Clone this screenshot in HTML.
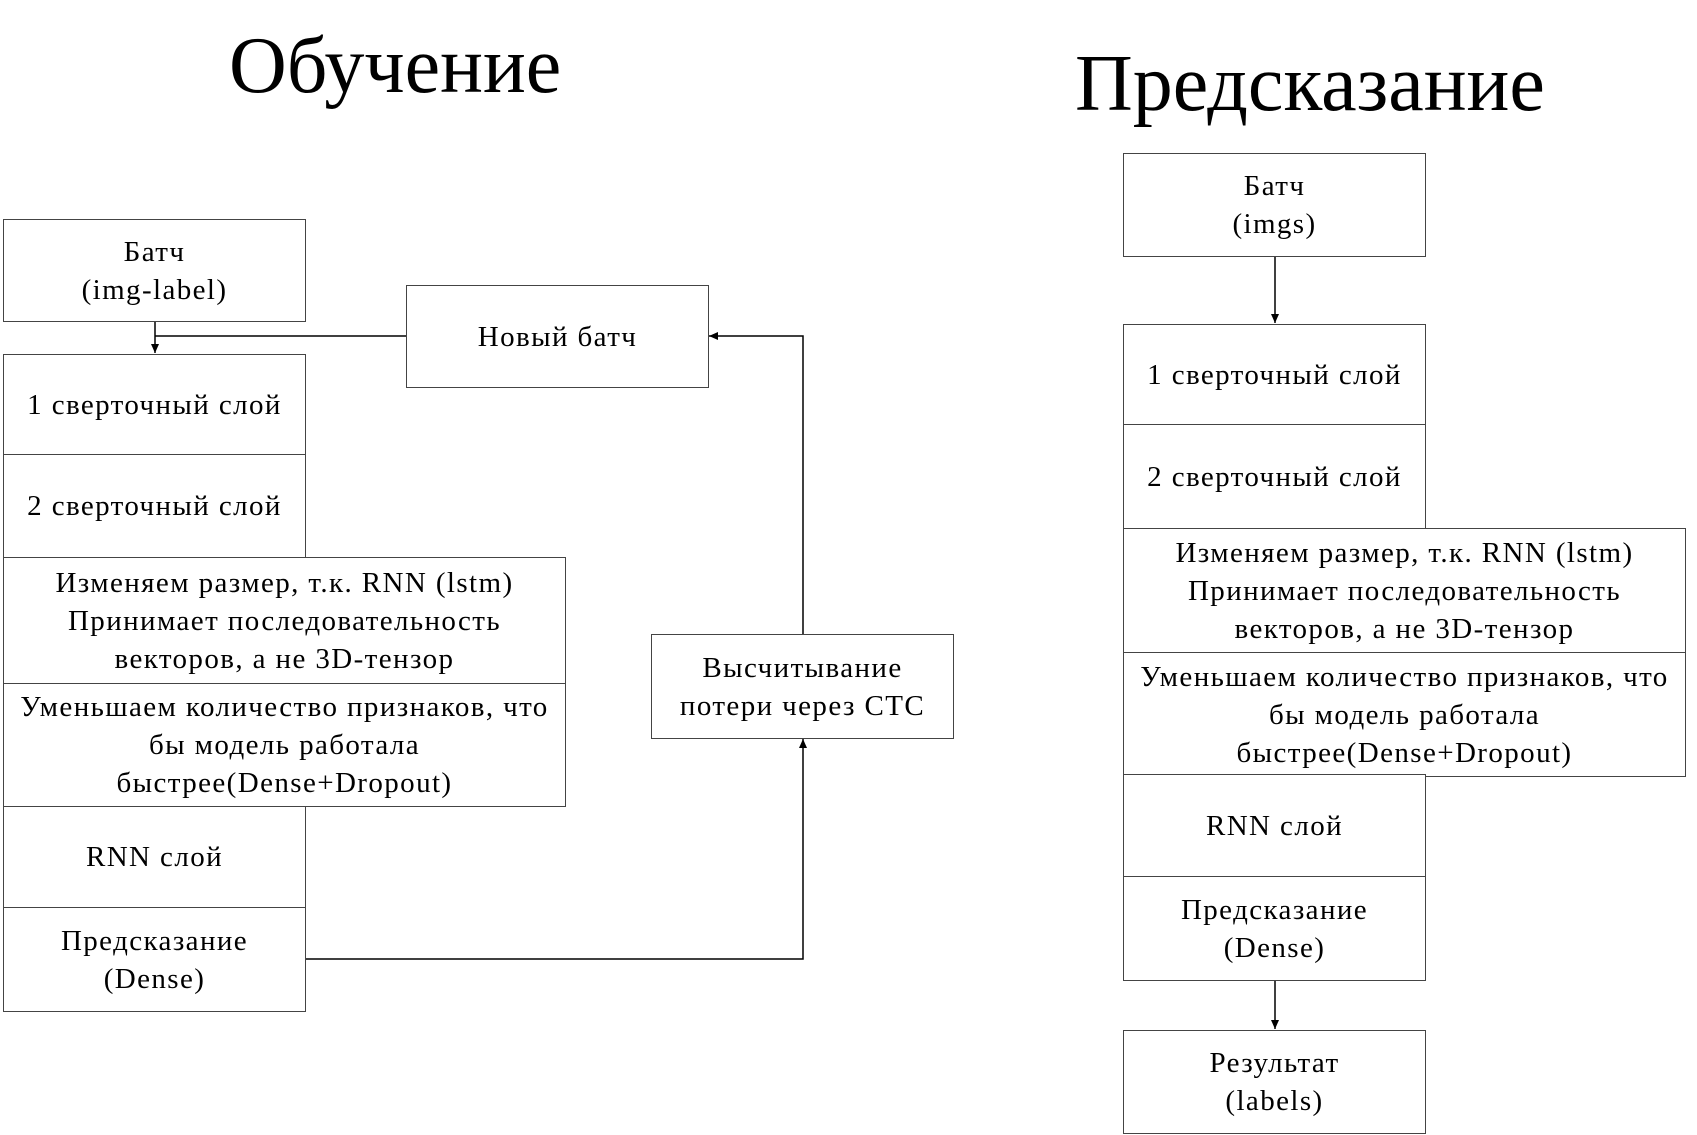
<!DOCTYPE html>
<html><head><meta charset="utf-8"><style>
body{margin:0;width:1697px;height:1135px;background:#fff;position:relative;overflow:hidden;font-family:"Liberation Serif",serif;color:#000}
.b{position:absolute;box-sizing:border-box;border:1.5px solid #444;background:#fff;display:flex;align-items:center;justify-content:center;text-align:center;font-size:29px;letter-spacing:1.4px;line-height:38px;white-space:nowrap}
.t{position:absolute;font-size:80px;line-height:1;white-space:nowrap}
svg{position:absolute;left:0;top:0}
</style></head><body>
<div class="t" style="left:229px;top:26px">Обучение</div>
<div class="t" style="left:1075px;top:44px;font-size:80px">Предсказание</div>
<svg width="1697" height="1135">
<defs><marker id="a" markerWidth="10" markerHeight="10" refX="9" refY="5" orient="auto" markerUnits="userSpaceOnUse"><path d="M0,1 L9,5 L0,9z" fill="#000"/></marker></defs>
<g stroke="#000" stroke-width="1.5" fill="none">
<line x1="155" y1="321" x2="155" y2="353" marker-end="url(#a)"/>
<line x1="406" y1="336" x2="155" y2="336"/>
<polyline points="305,959 803,959 803,739" marker-end="url(#a)"/>
<polyline points="803,634 803,336 709,336" marker-end="url(#a)"/>
<line x1="1275" y1="256" x2="1275" y2="323" marker-end="url(#a)"/>
<line x1="1275" y1="980" x2="1275" y2="1029" marker-end="url(#a)"/>
</g></svg>
<div class="b" style="left:3px;top:219px;width:303px;height:103px">Батч<br>(img-label)</div>
<div class="b" style="left:3px;top:354px;width:303px;height:101px">1 сверточный слой</div>
<div class="b" style="left:3px;top:454px;width:303px;height:104px">2 сверточный слой</div>
<div class="b" style="left:3px;top:557px;width:563px;height:127px">Изменяем размер, т.к. RNN (lstm)<br>Принимает последовательность<br>векторов, а не 3D-тензор</div>
<div class="b" style="left:3px;top:683px;width:563px;height:124px">Уменьшаем количество признаков, что<br>бы модель работала<br>быстрее(Dense+Dropout)</div>
<div class="b" style="left:3px;top:806px;width:303px;height:102px">RNN слой</div>
<div class="b" style="left:3px;top:907px;width:303px;height:105px">Предсказание<br>(Dense)</div>
<div class="b" style="left:406px;top:285px;width:303px;height:103px">Новый батч</div>
<div class="b" style="left:651px;top:634px;width:303px;height:105px">Высчитывание<br>потери через CTC</div>
<div class="b" style="left:1123px;top:153px;width:303px;height:104px">Батч<br>(imgs)</div>
<div class="b" style="left:1123px;top:324px;width:303px;height:101px">1 сверточный слой</div>
<div class="b" style="left:1123px;top:424px;width:303px;height:105px">2 сверточный слой</div>
<div class="b" style="left:1123px;top:528px;width:563px;height:125px">Изменяем размер, т.к. RNN (lstm)<br>Принимает последовательность<br>векторов, а не 3D-тензор</div>
<div class="b" style="left:1123px;top:652px;width:563px;height:125px">Уменьшаем количество признаков, что<br>бы модель работала<br>быстрее(Dense+Dropout)</div>
<div class="b" style="left:1123px;top:774px;width:303px;height:103px">RNN слой</div>
<div class="b" style="left:1123px;top:876px;width:303px;height:105px">Предсказание<br>(Dense)</div>
<div class="b" style="left:1123px;top:1030px;width:303px;height:104px">Результат<br>(labels)</div>
</body></html>
